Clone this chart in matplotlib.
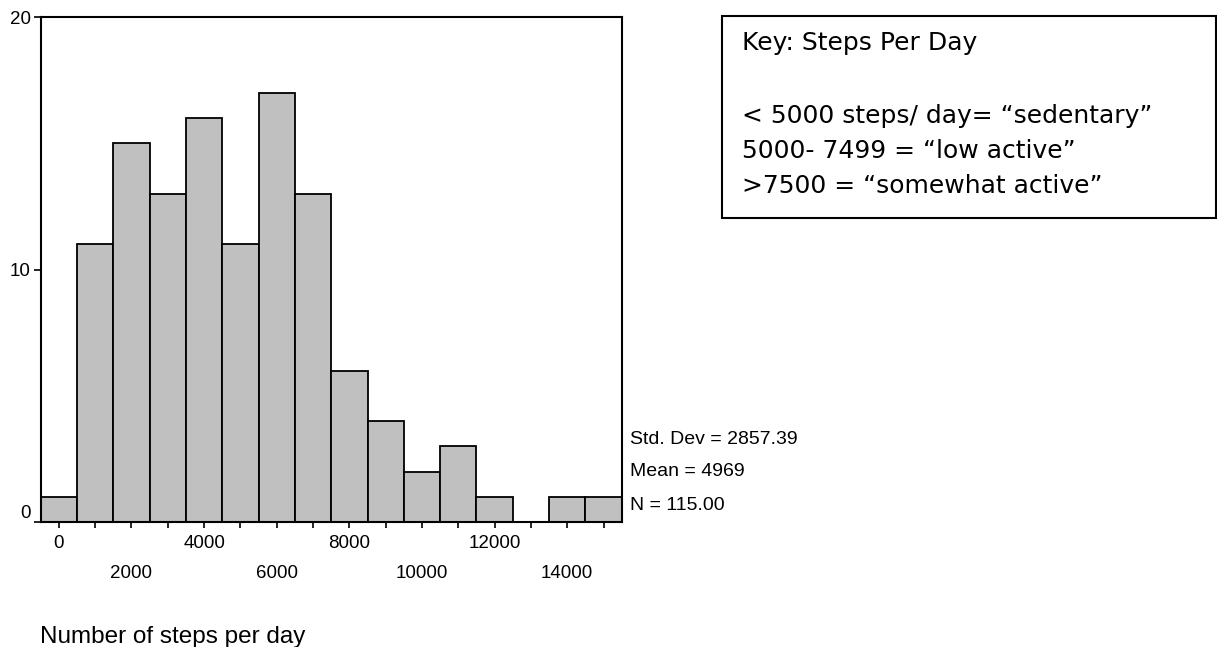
import matplotlib
matplotlib.use("Agg")
import matplotlib.pyplot as plt
from matplotlib.patches import Rectangle

# Histogram of daily step counts (bins of width 1000, centred on each thousand)
bin_centers = [0, 1000, 2000, 3000, 4000, 5000, 6000, 7000,
               8000, 9000, 10000, 11000, 12000, 13000, 14000, 15000]
counts = [1, 11, 15, 13, 16, 11, 17, 13, 6, 4, 2, 3, 1, 0, 1, 1]
bin_width = 1000

row1_labels = [0, 4000, 8000, 12000]
row2_labels = [2000, 6000, 10000, 14000]
y_ticks = [0, 10, 20]

stats_lines = ["Std. Dev = 2857.39", "Mean = 4969", "N = 115.00"]
x_title = "Number of steps per day"
key_title = "Key: Steps Per Day"
key_lines = ["< 5000 steps/ day= \u201csedentary\u201d",
             "5000- 7499 = \u201clow active\u201d",
             ">7500 = \u201csomewhat active\u201d"]

W, H = 1217, 647
DPI = 100
fig = plt.figure(figsize=(W / DPI, H / DPI), dpi=DPI)
fig.patch.set_facecolor("white")

def fx(px):
    return px / W

def fy(py):
    return 1 - py / H

sans = "Liberation Sans"
ax = fig.add_axes([fx(40.7), fy(522), fx(621.7) - fx(40.7), fy(17) - fy(522)])

ax.bar(bin_centers, counts, width=bin_width, color="#c0c0c0",
       edgecolor="black", linewidth=1.3, zorder=2)

ax.set_xlim(-500, 15500)
ax.set_ylim(0, 20)

for s in ax.spines.values():
    s.set_linewidth(1.5)
    s.set_color("black")

# x axis: a tick every 1000, labels staggered on two rows
ax.xaxis.remove_overlapping_locs = False
ax.set_xticks(bin_centers)
ax.set_xticklabels([str(v) if v in row1_labels else "" for v in bin_centers],
                   fontfamily=sans, fontsize=13.5)
ax.set_xticks(row2_labels, minor=True)
ax.set_xticklabels([str(v) for v in row2_labels], minor=True,
                   fontfamily=sans, fontsize=13.5)
ax.tick_params(axis="x", which="major", direction="out", length=4, width=1.2,
               pad=5)
ax.tick_params(axis="x", which="minor", length=0, pad=31)

ax.set_yticks(y_ticks)
ax.set_yticklabels([str(v) for v in y_ticks], fontfamily=sans, fontsize=13.5)
ax.tick_params(axis="y", direction="out", length=5, width=1.2, pad=2)
ax.yaxis.get_major_ticks()[0].label1.set_verticalalignment("bottom")

# summary statistics to the right of the plot
for txt, py in zip(stats_lines, [439, 471, 505]):
    fig.text(fx(630), fy(py), txt, fontfamily=sans, fontsize=14,
             ha="left", va="center")

fig.text(fx(40), fy(637), x_title, fontfamily=sans, fontsize=17.5,
         ha="left", va="center")

# activity key box
fig.patches.append(Rectangle((fx(722), fy(218)), fx(1216) - fx(722),
                             fy(16) - fy(218), transform=fig.transFigure,
                             facecolor="white", edgecolor="black",
                             linewidth=1.5))
fig.text(fx(742), fy(43), key_title, fontfamily="DejaVu Sans", fontsize=18,
         ha="left", va="center")
for txt, py in zip(key_lines, [116, 151, 186]):
    fig.text(fx(742), fy(py), txt, fontfamily="DejaVu Sans", fontsize=18,
             ha="left", va="center")

fig.savefig("out.png", dpi=DPI, facecolor="white")
